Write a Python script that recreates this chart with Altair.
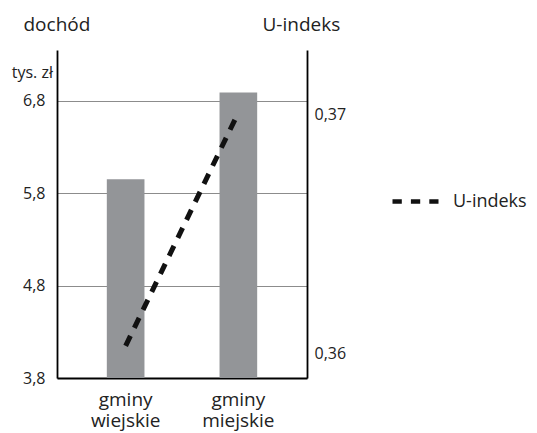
import altair as alt
import pandas as pd

# ---- data ----
categories = ["gminy wiejskie", "gminy miejskie"]
dochod = [5.95, 6.89]            # tys. zł (left axis)
u_indeks = [0.3603, 0.3701]      # U-indeks (right axis)
series_name = ["U-indeks", "U-indeks"]
left_ticks = [3.8, 4.8, 5.8, 6.8]
right_ticks = [0.36, 0.37]
left_domain = [3.8, 7.35]
right_domain = [0.35895, 0.37273]
bar_base = 3.8
unit_label = ["tys. zł"]

FONT = "Open Sans"

df = pd.DataFrame({
    "kategoria": categories,
    "dochod": dochod,
    "u": u_indeks,
    "seria": series_name,
})
unit_df = pd.DataFrame({"t": unit_label})

x_enc = alt.X(
    "kategoria:N",
    sort=categories,
    scale=alt.Scale(paddingInner=0.666, paddingOuter=0.442),
    axis=alt.Axis(
        title=None,
        labelExpr="split(datum.label, ' ')",
        labelAngle=0,
        ticks=False,
        domainColor="black",
        domainWidth=1.8,
        labelFontSize=19,
        labelLineHeight=21,
        labelPadding=12,
        labelBaseline="top",
        labelColor="#222222",
    ),
)

comma_fmt1 = "replace(format(datum.value, '.1f'), '.', ',')"
comma_fmt2 = "replace(format(datum.value, '.2f'), '.', ',')"

bars = alt.Chart(df).mark_bar(color="#939598").encode(
    x=x_enc,
    y=alt.Y(
        "dochod:Q",
        scale=alt.Scale(domain=left_domain, nice=False, zero=False),
        axis=alt.Axis(
            values=left_ticks,
            labelExpr=comma_fmt1,
            title="dochód",
            titleAngle=0,
            titleX=-34,
            titleY=-20,
            titleAlign="left",
            titleBaseline="alphabetic",
            titleFontSize=19,
            titleFontWeight="normal",
            titleColor="#222222",
            ticks=False,
            grid=True,
            gridColor="#8c8c8c",
            gridWidth=1.2,
            domainColor="black",
            domainWidth=1.8,
            labelPadding=12,
            labelFontSize=16,
            labelColor="#222222",
        ),
    ),
    y2=alt.datum(bar_base),
)

unit = alt.Chart(unit_df).mark_text(
    align="right", baseline="middle", fontSize=16, color="#222222", font=FONT
).encode(text="t:N", x=alt.value(-4), y=alt.value(23))

line = alt.Chart(df).mark_line(
    strokeDash=[11, 9], strokeWidth=5, strokeCap="butt"
).encode(
    x=x_enc,
    y=alt.Y(
        "u:Q",
        scale=alt.Scale(domain=right_domain, nice=False, zero=False),
        axis=alt.Axis(
            orient="right",
            values=right_ticks,
            labelExpr=comma_fmt2,
            title="U-indeks",
            titleAngle=0,
            titleX=-45,
            titleY=-20,
            titleAlign="left",
            titleBaseline="alphabetic",
            titleFontSize=19,
            titleFontWeight="normal",
            titleColor="#222222",
            ticks=False,
            grid=False,
            domainColor="black",
            domainWidth=1.8,
            labelPadding=7,
            labelFontSize=16,
            labelColor="#222222",
        ),
    ),
    color=alt.Color(
        "seria:N",
        scale=alt.Scale(range=["#111111"]),
        legend=alt.Legend(
            title=None,
            orient="none",
            legendX=333,
            legendY=126,
            symbolType="stroke",
            symbolSize=2116,
            symbolStrokeWidth=4.5,
            symbolDash=[9.3, 9.1],
            labelFontSize=18,
            labelOffset=12,
            labelColor="#222222",
        ),
    ),
)

chart = (
    alt.layer(bars, unit, line)
    .resolve_scale(y="independent")
    .properties(
        width=250,
        height=328,
        padding={"left": 49, "top": 42, "right": 221, "bottom": 55},
        autosize=alt.AutoSizeParams(type="none"),
    )
    .configure(font=FONT)
    .configure_view(stroke=None)
)

chart.save("out.html", embed_options={"renderer": "svg", "actions": False})
